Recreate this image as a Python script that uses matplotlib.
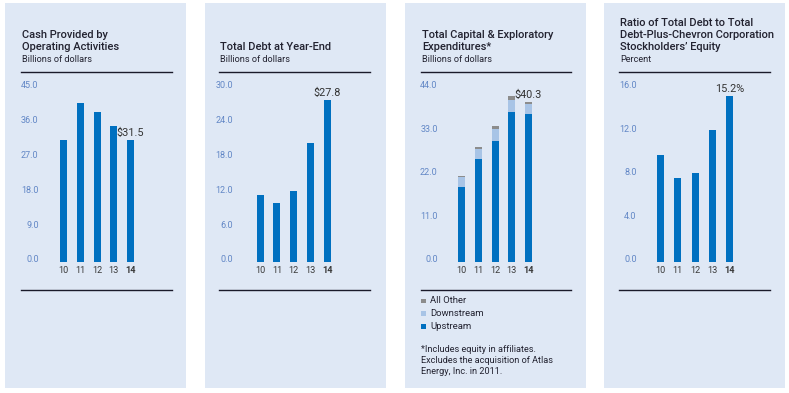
import matplotlib
matplotlib.use("Agg")
import matplotlib.pyplot as plt
from matplotlib.patches import Rectangle
from matplotlib.lines import Line2D
from matplotlib.transforms import ScaledTranslation

# ===============================
# DATA
# ===============================
years = ["10", "11", "12", "13", "14"]
cash = [31.4, 41.1, 38.8, 35.0, 31.5]
debt = [11.5, 10.2, 12.2, 20.4, 27.8]
upstream = [19.0, 25.9, 30.6, 37.9, 37.2]
downstream = [2.5, 2.7, 3.0, 3.0, 2.6]
all_other = [0.3, 0.5, 0.6, 1.0, 0.5]
ratio = [9.8, 7.7, 8.2, 12.1, 15.2]

titles = [
    ["Cash Provided by", "Operating Activities"],
    ["Total Debt at Year-End"],
    ["Total Capital & Exploratory", "Expenditures*"],
    ["Ratio of Total Debt to Total", "Debt-Plus-Chevron Corporation", "Stockholders\u2019 Equity"],
]
subtitles = ["Billions of dollars", "Billions of dollars", "Billions of dollars", "Percent"]
y_ticks = [
    [0, 9, 18, 27, 36, 45],
    [0, 6, 12, 18, 24, 30],
    [0, 11, 22, 33, 44],
    [0, 4, 8, 12, 16],
]
callouts = ["$31.5", "$27.8", "$40.3", "15.2%"]
legend_labels = ["All Other", "Downstream", "Upstream"]
footnote = ["*Includes equity in affiliates.",
            "Excludes the acquisition of Atlas",
            "Energy, Inc. in 2011."]

# ===============================
# STYLE / LAYOUT (pixels)
# ===============================
W, H = 789, 393
BG = "#dfe8f5"
BAR = "#0070c0"
DOWN = "#a8c4e6"
OTHER = "#8c8c8c"
TICK = "#6287c6"
TEXT = "#222230"
LINE = "#1a1a2a"
FONT = "Roboto"

panel_left = [5, 205, 405, 604]
panel_w = 181
line_left = [21, 219, 421, 619]
line_right = [172, 370, 571, 770]
label_right = [38.7, 233.3, 437.7, 636.7]
bar0 = [63.5, 260.2, 461.8, 660.5]
step = [16.75, 16.8, 16.7, 17.25]
ax_top, ax_bot = 87.5, 262.0

plt.rcParams["font.family"] = [FONT, "DejaVu Sans"]
fig = plt.figure(figsize=(W / 100, H / 100), dpi=100, facecolor="white")


def fx(x):
    return x / W


def fy(y):
    return 1 - y / H


def hline(x0, x1, y):
    fig.add_artist(Line2D([fx(x0), fx(x1)], [fy(y), fy(y)], transform=fig.transFigure,
                          color=LINE, linewidth=1.0))


for i in range(4):
    # panel background
    fig.add_artist(Rectangle((fx(panel_left[i]), fy(388)), panel_w / W, 385 / H,
                             transform=fig.transFigure, facecolor=BG, edgecolor="none",
                             zorder=-1))
    hline(line_left[i], line_right[i], 72)
    hline(line_left[i], line_right[i], 290)

    # titles
    lines = titles[i]
    for k, t in enumerate(lines):
        yb = 49.5 - 12 * (len(lines) - 1 - k)
        fig.text(fx(line_left[i] + 1), fy(yb), t, fontsize=8.0, color=TEXT,
                 fontweight="medium", va="baseline", ha="left")
    fig.text(fx(line_left[i] + 1), fy(62), subtitles[i], fontsize=6.6, color=TEXT,
             va="baseline", ha="left")

    # axes
    L = label_right[i] + 3
    R = line_right[i]
    ax = fig.add_axes([fx(L), fy(ax_bot), (R - L) / W, (ax_bot - ax_top) / H])
    ax.set_facecolor("none")
    ax.set_xlim(-(bar0[i] - L) / step[i], (R - bar0[i]) / step[i])
    ax.set_ylim(0, y_ticks[i][-1])
    for s in ax.spines.values():
        s.set_visible(False)
    ax.set_yticks(y_ticks[i])
    ax.set_yticklabels([f"{v:.1f}" for v in y_ticks[i]])
    ax.tick_params(axis="y", length=0, pad=2.2, labelsize=6.5, labelcolor=TICK)
    ax.tick_params(axis="x", length=0, pad=3.0, labelsize=6.6, labelcolor="#3a3a3a")
    off = ScaledTranslation(0, 3 / 100, fig.dpi_scale_trans)
    for lab in ax.get_yticklabels():
        lab.set_transform(lab.get_transform() + off)
    x = list(range(len(years)))
    ax.set_xticks(x)
    ax.set_xticklabels(years)
    ax.get_xticklabels()[-1].set_fontweight("bold")
    bw = 7 / step[i]

    if i == 0:
        vals = cash
    elif i == 1:
        vals = debt
    elif i == 3:
        vals = ratio
    else:
        vals = None

    if vals is not None:
        ax.bar(x, vals, width=bw, color=BAR, linewidth=0)
        top = vals[-1]
    else:
        ax.bar(x, upstream, width=bw, color=BAR, linewidth=0)
        ax.bar(x, downstream, bottom=upstream, width=bw, color=DOWN, linewidth=0)
        b3 = [u + d for u, d in zip(upstream, downstream)]
        ax.bar(x, all_other, bottom=b3, width=bw, color=OTHER, linewidth=0)
        top = b3[-1] + all_other[-1]

    ax.annotate(callouts[i], (x[-1], top), xytext=(0, 1.5), textcoords="offset points",
                ha="center", va="bottom", fontsize=7.8, color="#333333",
                annotation_clip=False)

# legend for panel 3
leg_colors = [OTHER, DOWN, BAR]
leg_y = [300.7, 313.5, 326.5]
for lbl, c, yy in zip(legend_labels, leg_colors, leg_y):
    fig.add_artist(Rectangle((fx(421.5), fy(yy + 2.2)), 4.4 / W, 4.4 / H,
                             transform=fig.transFigure, facecolor=c, edgecolor="none"))
    fig.text(fx(430), fy(yy), lbl, fontsize=6.8, color=TEXT, va="center", ha="left")

for k, t in enumerate(footnote):
    fig.text(fx(421), fy(352 + 11 * k), t, fontsize=6.6, color=TEXT, va="baseline", ha="left")

fig.savefig("out.png", dpi=100, facecolor="white")
